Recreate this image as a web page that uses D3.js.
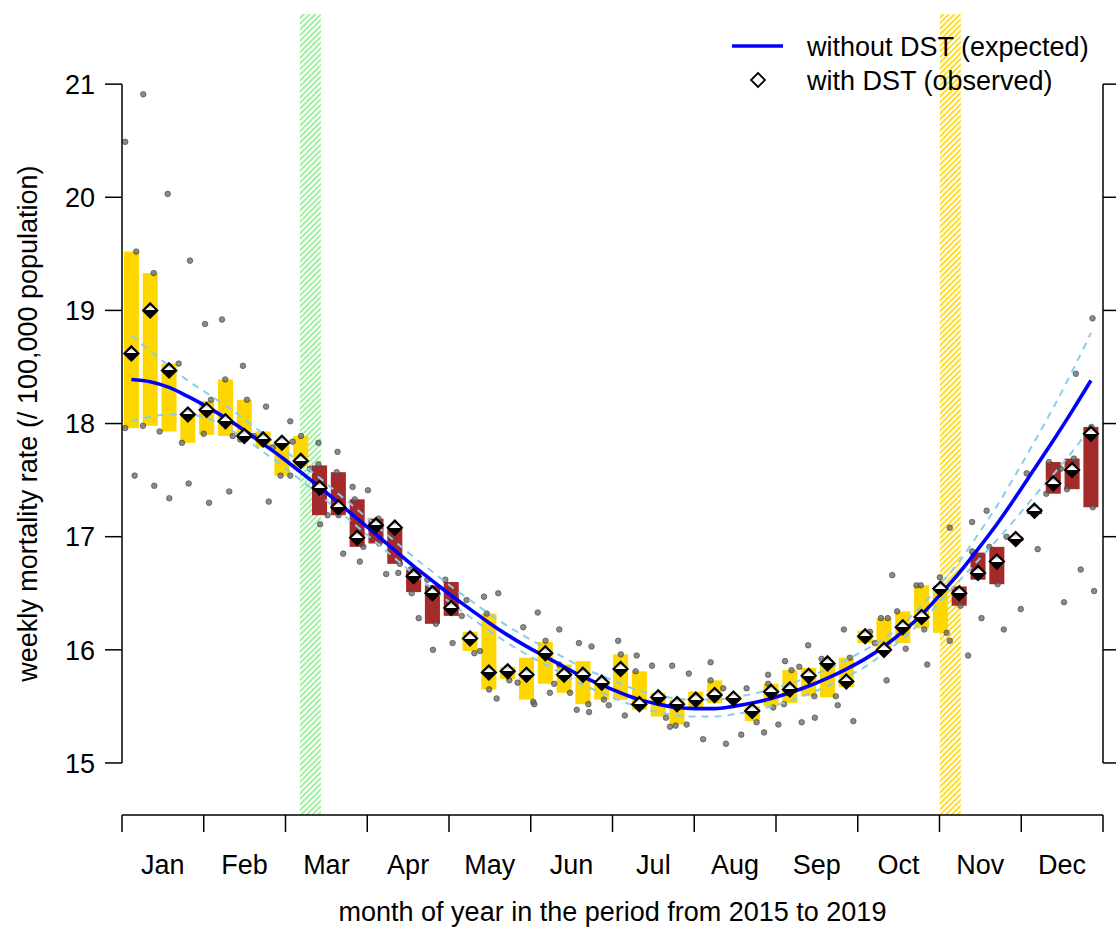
<!DOCTYPE html>
<html>
<head>
<meta charset="utf-8">
<script src="https://cdn.jsdelivr.net/npm/d3@7"></script>
<style>
  body { margin: 0; background: #fff; }
  svg text { font-family: "Liberation Sans", Arial, Helvetica, sans-serif; fill: #000; }
</style>
</head>
<body>
<div id="chart"></div>
<script>
// ---- data ----
const months = ["Jan", "Feb", "Mar", "Apr", "May", "Jun", "Jul", "Aug", "Sep", "Oct", "Nov", "Dec"];
const yTicks = [15, 16, 17, 18, 19, 20, 21];

const weeks = [1, 2, 3, 4, 5, 6, 7, 8, 9, 10, 11, 12, 13, 14, 15, 16, 17, 18, 19, 20, 21, 22, 23, 24, 25, 26,
    27, 28, 29, 30, 31, 32, 33, 34, 35, 36, 37, 38, 39, 40, 41, 42, 43, 44, 45, 46, 47, 48, 49, 50, 51, 52];

// expected weekly rate without DST and its band
const expected = [18.39, 18.37, 18.32, 18.24, 18.15, 18.05, 17.94, 17.82, 17.70, 17.57, 17.44, 17.30, 17.16,
    17.02, 16.88, 16.74, 16.61, 16.48, 16.36, 16.24, 16.13, 16.03, 15.94, 15.85, 15.76, 15.69, 15.62, 15.56,
    15.52, 15.49, 15.48, 15.48, 15.50, 15.53, 15.57, 15.62, 15.68, 15.75, 15.83, 15.92, 16.03, 16.16, 16.31,
    16.49, 16.68, 16.89, 17.11, 17.35, 17.60, 17.85, 18.11, 18.38];
const expectedHigh = [18.78, 18.64, 18.51, 18.38, 18.27, 18.16, 18.04, 17.91, 17.78, 17.65, 17.52, 17.38, 17.24,
    17.10, 16.96, 16.82, 16.69, 16.56, 16.44, 16.32, 16.21, 16.11, 16.02, 15.93, 15.84, 15.77, 15.70, 15.64,
    15.60, 15.57, 15.56, 15.56, 15.58, 15.61, 15.65, 15.70, 15.76, 15.83, 15.91, 16.00, 16.10, 16.23, 16.39,
    16.58, 16.78, 17.02, 17.27, 17.55, 17.84, 18.14, 18.46, 18.80];
const expectedLow = [18.02, 18.06, 18.08, 18.08, 18.05, 17.97, 17.87, 17.75, 17.63, 17.50, 17.37, 17.23, 17.09,
    16.95, 16.81, 16.67, 16.54, 16.41, 16.29, 16.17, 16.06, 15.96, 15.87, 15.78, 15.69, 15.62, 15.55, 15.49,
    15.45, 15.42, 15.41, 15.41, 15.43, 15.46, 15.50, 15.55, 15.61, 15.68, 15.76, 15.85, 15.97, 16.10, 16.25,
    16.43, 16.61, 16.79, 16.97, 17.16, 17.36, 17.55, 17.75, 17.97];

// observed weekly rate with DST
const observed = [18.62, 19.00, 18.47, 18.08, 18.12, 18.02, 17.89, 17.86, 17.83, 17.67, 17.43, 17.26, 16.99,
    17.10, 17.08, 16.65, 16.50, 16.37, 16.10, 15.80, 15.81, 15.78, 15.97, 15.78, 15.78, 15.71, 15.83, 15.52,
    15.58, 15.52, 15.56, 15.60, 15.57, 15.46, 15.63, 15.65, 15.77, 15.88, 15.72, 16.12, 16.00, 16.20, 16.29,
    16.54, 16.50, 16.68, 16.78, 16.98, 17.23, 17.47, 17.59, 17.91];

// spread bars
const barLow = [17.96, 17.98, 17.93, 17.83, 17.90, 17.89, 17.87, 17.79, 17.54, 17.62, 17.19, 17.19, 16.91,
    16.94, 16.76, 16.51, 16.23, 16.30, 15.99, 15.65, 15.74, 15.56, 15.70, 15.62, 15.52, 15.56, 15.56, 15.47,
    15.41, 15.34, 15.47, 15.53, 15.55, 15.37, 15.50, 15.53, 15.59, 15.58, 15.67, 16.06, 15.98, 16.06, 16.19,
    16.15, 16.39, 16.62, 16.58, 16.96, 17.20, 17.38, 17.42, 17.26];
const barHigh = [19.52, 19.33, 18.53, 18.09, 18.20, 18.39, 18.21, 17.93, 17.85, 17.89, 17.63, 17.57, 17.33,
    17.16, 17.07, 16.71, 16.57, 16.60, 16.16, 16.32, 15.85, 15.93, 16.07, 15.87, 15.90, 15.73, 15.96, 15.81,
    15.62, 15.56, 15.63, 15.73, 15.59, 15.50, 15.70, 15.82, 15.84, 15.88, 15.93, 16.17, 16.28, 16.34, 16.57,
    16.57, 16.56, 16.86, 16.91, 17.00, 17.25, 17.66, 17.69, 17.97];
// 1 = weeks right after a clock change
const afterShift = [0, 0, 0, 0, 0, 0, 0, 0, 0, 0, 1, 1, 1, 1, 1, 1, 1, 1, 0, 0, 0, 0, 0, 0, 0, 0,
    0, 0, 0, 0, 0, 0, 0, 0, 0, 0, 0, 0, 0, 0, 0, 0, 0, 0, 1, 1, 1, 1, 1, 1, 1, 1];

// single-year values: [day of year, rate]
const yearPoints = [
    [1.2, 20.49], [5.3, 19.52], [1.2, 17.96], [4.7, 17.54],
    [7.9, 20.91], [11.8, 19.33], [7.8, 17.98], [12.0, 17.45], [14.0, 17.93],
    [17.0, 20.03], [21.1, 18.53], [17.6, 17.34],
    [25.3, 19.44], [22.3, 17.83], [24.8, 17.47],
    [30.9, 18.88], [30.4, 17.91], [32.4, 17.30], [33.1, 18.21],
    [37.2, 18.92], [38.4, 18.39], [41.2, 17.89], [39.9, 17.40],
    [45.0, 18.51], [46.5, 18.21], [44.0, 17.86], [49.0, 17.89],
    [53.6, 18.15], [56.1, 17.79], [54.6, 17.31],
    [62.6, 18.02], [59.0, 17.54], [62.6, 17.54], [63.5, 17.84],
    [66.6, 17.89], [69.9, 17.60],
    [73.1, 17.83], [73.1, 17.64], [76.5, 17.19], [73.7, 17.11],
    [80.2, 17.75], [79.9, 17.57], [80.6, 17.19], [82.3, 16.85],
    [85.8, 17.44], [86.6, 17.33], [88.5, 16.78], [89.8, 16.91],
    [91.5, 17.41], [95.4, 17.16], [95.7, 16.94],
    [98.3, 16.67], [102.8, 16.68], [103.4, 16.76],
    [107.4, 16.71], [107.8, 16.50], [110.4, 16.28],
    [113.6, 16.62], [116.8, 16.23], [115.7, 16.00],
    [120.3, 16.62], [123.0, 16.06], [126.4, 16.30],
    [128.2, 16.44], [131.1, 15.97], [133.2, 15.99],
    [134.7, 16.47], [140.0, 16.50], [135.7, 16.32], [136.6, 15.65], [139.4, 15.57],
    [144.1, 15.73], [147.2, 15.71],
    [149.3, 16.20], [153.0, 15.54], [153.4, 15.52],
    [154.7, 16.33], [157.6, 16.08], [159.2, 15.62], [160.8, 15.70],
    [162.7, 16.18], [162.7, 15.87], [166.7, 15.62],
    [169.2, 15.47], [170.0, 16.06], [173.5, 15.52], [173.8, 15.45], [174.7, 16.03],
    [179.3, 15.56], [181.1, 15.51],
    [184.6, 16.08], [185.6, 15.96], [187.1, 15.42],
    [191.1, 15.81], [191.5, 15.95],
    [197.2, 15.86], [202.4, 15.40],
    [204.7, 15.86], [203.9, 15.32], [206.0, 15.33], [210.1, 15.34],
    [210.9, 15.79], [216.2, 15.21],
    [219.0, 15.89], [219.0, 15.73], [223.7, 15.66],
    [224.7, 15.17], [230.4, 15.25],
    [232.4, 15.66], [236.1, 15.36],
    [240.4, 15.78], [240.4, 15.70], [238.9, 15.27], [242.3, 15.49], [244.2, 15.34],
    [246.7, 15.90], [249.1, 15.82], [252.0, 15.85], [246.3, 15.52],
    [252.9, 15.36], [255.3, 16.04], [257.6, 15.59], [257.8, 15.40],
    [260.3, 15.92], [265.6, 15.59], [266.3, 15.51],
    [268.6, 16.18], [270.8, 15.93], [272.1, 15.37],
    [278.3, 16.16], [280.1, 16.06],
    [282.4, 16.28], [284.9, 16.28], [284.5, 15.73], [286.6, 16.66],
    [288.4, 16.34], [291.6, 16.01],
    [295.6, 16.57], [297.2, 16.57], [298.5, 16.18], [299.6, 15.87],
    [304.3, 16.64], [306.8, 16.15], [308.0, 16.08], [308.0, 17.08],
    [312.0, 16.39], [314.8, 15.95],
    [316.3, 17.13], [316.3, 16.87], [319.8, 16.28], [321.7, 17.23],
    [322.7, 16.91], [325.8, 16.58], [328.1, 16.18],
    [329.1, 17.00], [334.4, 16.36],
    [336.6, 17.56], [340.7, 16.89],
    [344.9, 17.66], [349.3, 17.60], [350.5, 16.42], [343.9, 17.38],
    [354.2, 17.69], [354.9, 18.44], [356.7, 16.71], [351.6, 17.42],
    [361.1, 18.93], [361.7, 16.52], [360.7, 17.97], [361.2, 17.26]
];

// clock change windows (day of year)
const springWindow = [66.2, 74.0];
const fallWindow = [304.3, 312.1];

const legendLabels = ["without DST (expected)", "with DST (observed)"];
const xTitle = "month of year in the period from 2015 to 2019";
const yTitle = "weekly mortality rate (/ 100,000 population)";

// ---- settings ----
const SETTINGS = {
    width: 1116,
    height: 931,
    fontSize: 27,
    tickLen: 17,
    barDays: 5.6,
    gold: "#FFD700",
    brown: "#A52A2A",
    blue: "#0000FF",
    sky: "#87CEEB"
};

const svg = d3.select("#chart").append("svg")
    .attr("width", SETTINGS.width)
    .attr("height", SETTINGS.height);

// x in day of year, y in rate
const x = d3.scaleLinear().domain([0, 365]).range([122, 1103]);
const y = d3.scaleLinear().domain([14.54, 21.62]).range([815, 14]);
const weekDay = w => (w - 0.5) * 7;

const defs = svg.append("defs");

//hatch patterns for the clock change windows
function addHatch(id, color){
    const p = defs.append("pattern")
        .attr("id", id)
        .attr("patternUnits", "userSpaceOnUse")
        .attr("width", 4)
        .attr("height", 4)
        .attr("patternTransform", "rotate(45)");
    p.append("line")
        .attr("x1", 1).attr("y1", 0)
        .attr("x2", 1).attr("y2", 4)
        .attr("stroke", color)
        .attr("stroke-width", 1.7);
}
addHatch("hatchGreen", "#90EE90");
addHatch("hatchGold", SETTINGS.gold);

const grad = defs.append("linearGradient")
    .attr("id", "diamondFill")
    .attr("x1", 0).attr("y1", 0).attr("x2", 0).attr("y2", 1);
grad.append("stop").attr("offset", "0%").attr("stop-color", "#8a8a8a");
grad.append("stop").attr("offset", "38%").attr("stop-color", "#ffffff");
grad.append("stop").attr("offset", "50%").attr("stop-color", "#ffffff");
grad.append("stop").attr("offset", "50%").attr("stop-color", "#000000");
grad.append("stop").attr("offset", "100%").attr("stop-color", "#000000");

const plot = svg.append("g");

// windows
[["hatchGreen", springWindow], ["hatchGold", fallWindow]].forEach(([id, win]) => {
    plot.append("rect")
        .attr("x", x(win[0]))
        .attr("y", y(21.62))
        .attr("width", x(win[1]) - x(win[0]))
        .attr("height", y(14.54) - y(21.62))
        .attr("fill", `url(#${id})`);
});

// bars
const halfBar = SETTINGS.barDays / 2;
plot.append("g").selectAll("rect")
    .data(weeks)
    .join("rect")
    .attr("x", (w) => x(weekDay(w) - halfBar))
    .attr("width", x(SETTINGS.barDays) - x(0))
    .attr("y", (w, i) => y(barHigh[i]))
    .attr("height", (w, i) => Math.max(1, y(barLow[i]) - y(barHigh[i])))
    .attr("fill", (w, i) => afterShift[i] ? SETTINGS.brown : SETTINGS.gold);

// single-year points
plot.append("g").selectAll("circle")
    .data(yearPoints)
    .join("circle")
    .attr("cx", d => x(d[0]))
    .attr("cy", d => y(d[1]))
    .attr("r", 2.8)
    .attr("fill", "rgba(100,100,100,0.75)")
    .attr("stroke", "rgba(60,60,60,0.65)")
    .attr("stroke-width", 0.9);

// expected curve and band
const lineOf = vals => d3.line()
    .x((w) => x(weekDay(w)))
    .y((w, i) => y(vals[i]))
    .curve(d3.curveMonotoneX)(weeks);

[expectedHigh, expectedLow].forEach(vals => {
    plot.append("path")
        .attr("d", lineOf(vals))
        .attr("fill", "none")
        .attr("stroke", SETTINGS.sky)
        .attr("stroke-width", 2)
        .attr("stroke-dasharray", "7,6");
});

plot.append("path")
    .attr("d", lineOf(expected))
    .attr("fill", "none")
    .attr("stroke", SETTINGS.blue)
    .attr("stroke-width", 3.6);

// observed diamonds
const diamond = s => `M0,${-s}L${s},0L0,${s}L${-s},0Z`;
plot.append("g").selectAll("path")
    .data(weeks)
    .join("path")
    .attr("transform", (w, i) => `translate(${x(weekDay(w))},${y(observed[i])})`)
    .attr("d", diamond(7))
    .attr("fill", "url(#diamondFill)")
    .attr("stroke", "#000")
    .attr("stroke-width", 2.2);

// ---- axes (R style) ----
const axisColor = "#000";
const fs = SETTINGS.fontSize;

//left axis
const left = svg.append("g");
left.append("line")
    .attr("x1", 122).attr("x2", 122)
    .attr("y1", y(15)).attr("y2", y(21))
    .attr("stroke", axisColor).attr("stroke-width", 1.5);
left.selectAll(".tick")
    .data(yTicks)
    .join("line")
    .attr("x1", 122 - SETTINGS.tickLen).attr("x2", 122)
    .attr("y1", d => y(d)).attr("y2", d => y(d))
    .attr("stroke", axisColor).attr("stroke-width", 1.5);
left.selectAll("text")
    .data(yTicks)
    .join("text")
    .attr("x", 95)
    .attr("y", d => y(d) + fs * 0.36)
    .attr("text-anchor", "end")
    .attr("font-size", fs)
    .text(d => d);

//right axis
const right = svg.append("g");
right.append("line")
    .attr("x1", 1103).attr("x2", 1103)
    .attr("y1", y(15)).attr("y2", y(21))
    .attr("stroke", axisColor).attr("stroke-width", 1.5);
right.selectAll("line.tick")
    .data(yTicks)
    .join("line")
    .attr("class", "tick")
    .attr("x1", 1103).attr("x2", 1103 + SETTINGS.tickLen)
    .attr("y1", d => y(d)).attr("y2", d => y(d))
    .attr("stroke", axisColor).attr("stroke-width", 1.5);

//bottom axis, month boundaries
const monthEdges = d3.range(13).map(i => i * 365 / 12);
const bottom = svg.append("g");
bottom.append("line")
    .attr("x1", x(0)).attr("x2", x(365))
    .attr("y1", 815).attr("y2", 815)
    .attr("stroke", axisColor).attr("stroke-width", 1.5);
bottom.selectAll("line.tick")
    .data(monthEdges)
    .join("line")
    .attr("class", "tick")
    .attr("x1", d => x(d)).attr("x2", d => x(d))
    .attr("y1", 815).attr("y2", 815 + SETTINGS.tickLen)
    .attr("stroke", axisColor).attr("stroke-width", 1.5);
bottom.selectAll("text")
    .data(months)
    .join("text")
    .attr("x", (m, i) => x((i + 0.5) * 365 / 12))
    .attr("y", 874)
    .attr("text-anchor", "middle")
    .attr("font-size", fs)
    .text(m => m);

//axis titles
svg.append("text")
    .attr("x", x(182.5))
    .attr("y", 921)
    .attr("text-anchor", "middle")
    .attr("font-size", fs)
    .text(xTitle);
svg.append("text")
    .attr("transform", `translate(37,${(y(15) + y(21)) / 2}) rotate(-90)`)
    .attr("text-anchor", "middle")
    .attr("font-size", fs)
    .text(yTitle);

// ---- legend ----
const legend = svg.append("g");
legend.append("line")
    .attr("x1", 732).attr("x2", 783)
    .attr("y1", 46).attr("y2", 46)
    .attr("stroke", SETTINGS.blue)
    .attr("stroke-width", 3.6);
legend.append("path")
    .attr("transform", "translate(758,80)")
    .attr("d", diamond(7))
    .attr("fill", "#fff")
    .attr("stroke", "#000")
    .attr("stroke-width", 1.8);
legend.selectAll("text")
    .data(legendLabels)
    .join("text")
    .attr("x", 807)
    .attr("y", (d, i) => 46 + i * 34 + fs * 0.36)
    .attr("font-size", fs)
    .text(d => d);
</script>
</body>
</html>
